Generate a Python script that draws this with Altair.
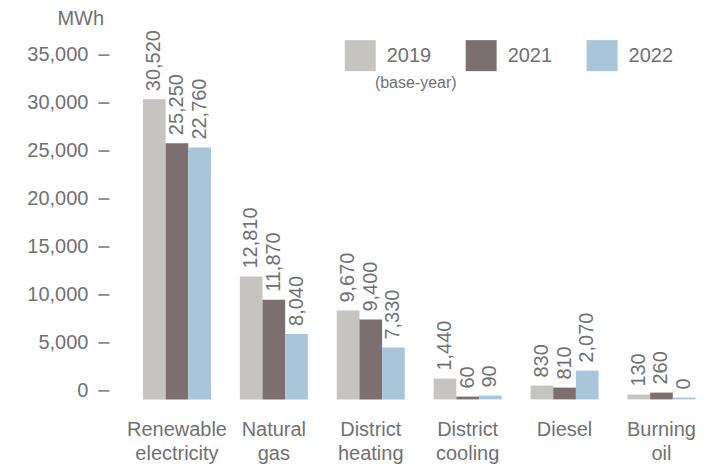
import altair as alt
import pandas as pd

categories = ["Renewable\nelectricity", "Natural\ngas", "District\nheating",
              "District\ncooling", "Diesel", "Burning\noil"]
years = ["2019", "2021", "2022"]
colors = ["#c5c4c0", "#7b706f", "#a9c5da"]

# bar heights as drawn in the picture (MWh)
bar_2019 = [31310, 12810, 9260, 2170, 1440, 500]
bar_2021 = [26720, 10380, 8320, 290, 1230, 710]
bar_2022 = [26260, 6830, 5400, 400, 3000, 190]

# printed value labels
lab_2019 = [30520, 12810, 9670, 1440, 830, 130]
lab_2021 = [25250, 11870, 9400, 60, 810, 260]
lab_2022 = [22760, 8040, 7330, 90, 2070, 0]

y_ticks = [0, 5000, 10000, 15000, 20000, 25000, 30000, 35000]
note = "(base-year)"

FONT = "Liberation Sans"
GREY = "#6f7174"

rows = []
for i, c in enumerate(categories):
    for yr, vals, labs in zip(years, [bar_2019, bar_2021, bar_2022],
                              [lab_2019, lab_2021, lab_2022]):
        rows.append({"category": c, "year": yr, "value": vals[i],
                     "label": f"{labs[i]:,}"})
df = pd.DataFrame(rows)

x = alt.X("category:N", sort=categories,
          scale=alt.Scale(paddingInner=0.298, paddingOuter=0.15),
          axis=alt.Axis(title=None, labelAngle=0, domain=False, ticks=False,
                        labelPadding=20, labelFontSize=20, labelLineHeight=24,
                        labelFont=FONT, labelColor=GREY,
                        labelExpr="split(datum.label, '\\n')"))
xo = alt.XOffset("year:N", sort=years, scale=alt.Scale(paddingInner=0, paddingOuter=0))
y = alt.Y("value:Q", scale=alt.Scale(domain=[0, 37000], nice=False),
          axis=alt.Axis(values=y_ticks, format=",.0f", domain=False, grid=False,
                        offset=19.5, tickSize=11, tickWidth=1.5, tickColor=GREY,
                        tickOffset=-9, labelPadding=10, labelFontSize=20,
                        labelFont=FONT, labelColor=GREY,
                        title="MWh", titleAngle=0, titleX=-28.7, titleY=-26.5,
                        titleAlign="center", titleBaseline="middle",
                        titleFontSize=20, titleFontWeight="normal",
                        titleFont=FONT, titleColor=GREY))

base = alt.Chart(df).encode(x=x, xOffset=xo, y=y)

bars = base.mark_bar().encode(
    color=alt.Color("year:N", sort=years,
                    scale=alt.Scale(domain=years, range=colors),
                    legend=alt.Legend(title=None, orient="none", legendX=216.5,
                                      legendY=-4.5, direction="horizontal",
                                      symbolType="square", symbolSize=961,
                                      symbolStrokeWidth=0, symbolOpacity=1,
                                      labelFontSize=20, labelFont=FONT,
                                      labelColor=GREY, labelOffset=11,
                                      columnPadding=34, padding=0))
)

labels = base.mark_text(angle=270, align="left", baseline="middle", dx=8,
                        fontSize=20, font=FONT, color=GREY).encode(text="label:N")

note_txt = alt.Chart(pd.DataFrame({"t": [note]})).mark_text(
    fontSize=16, font=FONT, color=GREY, align="center", baseline="middle"
).encode(x=alt.value(287.5), y=alt.value(38.5), text="t:N")

chart = alt.layer(bars, labels, note_txt).properties(
    width=582, height=355,
    autosize=alt.AutoSizeParams(type="none"),
    padding={"left": 120.5, "top": 36.5, "right": 2, "bottom": 72},
).configure_view(stroke=None)

chart.save("out.html", embed_options={"renderer": "svg", "actions": False})
